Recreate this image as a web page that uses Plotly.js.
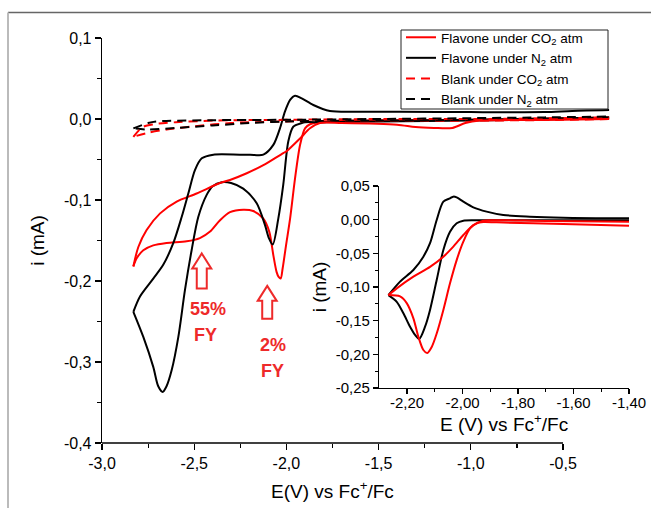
<!DOCTYPE html>
<html><head><meta charset="utf-8">
<script src="https://cdn.plot.ly/plotly-3.0.1.min.js"></script>
<style>html,body{margin:0;padding:0;background:#fff}#chart{width:651px;height:508px}</style>
</head><body><div id="chart"></div>
<script>
// ---------- Main plot data (E in V vs Fc+/Fc, i in mA); each CV loop split into cathodic (fwd) and anodic (rev) branch ----------
const flavoneCO2_fwd_E = [-0.25,-0.5,-1.0,-1.5,-1.8,-1.872,-1.899,-1.926,-1.953,-1.980,-2.002,-2.020,-2.031,-2.042,-2.053,-2.071,-2.093,-2.125,-2.180,-2.234,-2.306,-2.360,-2.414,-2.469,-2.541,-2.650,-2.722,-2.776,-2.812,-2.830];
const flavoneCO2_fwd_i = [0.002,0.001,-0.001,-0.002,-0.003,-0.0065,-0.0115,-0.032,-0.073,-0.123,-0.156,-0.184,-0.197,-0.195,-0.189,-0.168,-0.139,-0.123,-0.1136,-0.112,-0.115,-0.125,-0.139,-0.147,-0.151,-0.153,-0.156,-0.162,-0.172,-0.182];
const flavoneCO2_rev_E = [-2.830,-2.803,-2.758,-2.685,-2.595,-2.487,-2.360,-2.306,-2.215,-2.125,-2.017,-2.0,-1.926,-1.872,-1.818,-1.70,-1.40,-1.30,-1.20,-1.10,-1.03,-0.95,-0.5,-0.25];
const flavoneCO2_rev_i = [-0.182,-0.158,-0.137,-0.1165,-0.102,-0.092,-0.079,-0.0753,-0.067,-0.057,-0.042,-0.040,-0.024,-0.0115,-0.005,-0.005,-0.007,-0.010,-0.011,-0.011,-0.005,-0.002,-0.001,0.0];

const flavoneN2_fwd_E = [-0.25,-0.5,-1.0,-1.5,-1.8,-1.9,-1.917,-1.963,-1.990,-2.017,-2.044,-2.074,-2.095,-2.116,-2.161,-2.234,-2.30,-2.35,-2.40,-2.433,-2.478,-2.514,-2.550,-2.586,-2.622,-2.650,-2.671,-2.695,-2.722,-2.776,-2.830];
const flavoneN2_fwd_i = [0.002,0.0,-0.002,-0.003,-0.004,-0.004,-0.005,-0.0095,-0.028,-0.081,-0.123,-0.155,-0.147,-0.131,-0.104,-0.086,-0.079,-0.078,-0.083,-0.094,-0.121,-0.162,-0.211,-0.269,-0.310,-0.330,-0.337,-0.330,-0.306,-0.269,-0.238];
const flavoneN2_rev_E = [-2.830,-2.794,-2.722,-2.668,-2.613,-2.568,-2.532,-2.496,-2.459,-2.396,-2.252,-2.197,-2.125,-2.071,-2.035,-2.008,-1.980,-1.953,-1.917,-1.854,-1.764,-1.60,-1.384,-1.0,-0.6,-0.45,-0.25];
const flavoneN2_rev_i = [-0.238,-0.219,-0.197,-0.180,-0.153,-0.121,-0.092,-0.063,-0.0485,-0.044,-0.044,-0.044,-0.044,-0.032,-0.0115,0.009,0.0235,0.0288,0.0255,0.0173,0.0099,0.009,0.009,0.0085,0.0086,0.010,0.011];

const blankCO2_fwd_E = [-0.25,-0.5,-1.0,-1.5,-2.0,-2.3,-2.5,-2.65,-2.75,-2.83];
const blankCO2_fwd_i = [0.0,-0.001,-0.002,-0.002,-0.003,-0.005,-0.009,-0.013,-0.017,-0.022];
const blankCO2_rev_E = [-2.83,-2.78,-2.72,-2.6,-2.4,-2.0,-1.5,-1.0,-0.5,-0.25];
const blankCO2_rev_i = [-0.022,-0.010,-0.0065,-0.004,-0.002,-0.001,0.0,0.0,0.001,0.002];

const blankN2_fwd_E = [-0.25,-0.5,-1.0,-1.5,-2.0,-2.2,-2.4,-2.6,-2.75,-2.83];
const blankN2_fwd_i = [0.002,0.001,-0.001,-0.002,-0.003,-0.005,-0.008,-0.011,-0.013,-0.0115];
const blankN2_rev_E = [-2.83,-2.75,-2.7,-2.4,-2.0,-1.5,-1.0,-0.6,-0.25];
const blankN2_rev_i = [-0.0115,-0.005,-0.003,-0.0015,-0.001,0.0,0.001,0.002,0.003];

// ---------- Inset data ----------
const insetN2_fwd_E = [-1.40,-1.757,-1.937,-1.997,-2.021,-2.045,-2.069,-2.093,-2.117,-2.135,-2.156,-2.171,-2.189,-2.213,-2.237,-2.267];
const insetN2_fwd_i = [-0.001,-0.001,-0.001,-0.0015,-0.0054,-0.018,-0.045,-0.0896,-0.134,-0.159,-0.177,-0.171,-0.159,-0.139,-0.122,-0.112];
const insetN2_rev_E = [-2.267,-2.225,-2.177,-2.141,-2.117,-2.093,-2.069,-2.045,-2.033,-2.021,-1.997,-1.961,-1.913,-1.853,-1.757,-1.637,-1.40];
const insetN2_rev_i = [-0.112,-0.092,-0.0748,-0.055,-0.035,-0.0005,0.0267,0.0317,0.0342,0.033,0.0267,0.0183,0.0119,0.0069,0.0045,0.003,0.002];

const insetCO2_fwd_E = [-1.40,-1.637,-1.877,-1.925,-1.949,-1.973,-1.997,-2.021,-2.045,-2.069,-2.093,-2.111,-2.127,-2.141,-2.159,-2.177,-2.201,-2.225,-2.267];
const insetCO2_fwd_i = [-0.009,-0.0065,-0.004,-0.0035,-0.0054,-0.013,-0.0327,-0.060,-0.0945,-0.134,-0.169,-0.189,-0.198,-0.1936,-0.174,-0.1465,-0.124,-0.114,-0.112];
const insetCO2_rev_E = [-2.267,-2.237,-2.177,-2.117,-2.069,-2.033,-1.997,-1.961,-1.925,-1.877,-1.70,-1.40];
const insetCO2_rev_i = [-0.112,-0.102,-0.0847,-0.070,-0.055,-0.040,-0.0228,-0.008,-0.0015,-0.0008,-0.002,-0.003];

// ---------- Tick labels ----------
const mainXTicks = [-3,-2.5,-2,-1.5,-1,-0.5];
const mainXLabels = ['-3,0','-2,5','-2,0','-1,5','-1,0','-0,5'];
const mainXMinor = [-2.75,-2.25,-1.75,-1.25,-0.75];
const mainYTicks = [0.1,0,-0.1,-0.2,-0.3,-0.4];
const mainYLabels = ['0,1','0,0','-0,1','-0,2','-0,3','-0,4'];
const mainYMinor = [0.05,-0.05,-0.15,-0.25,-0.35];
const insetXTicks = [-2.2,-2.0,-1.8,-1.6,-1.4];
const insetXLabels = ['-2,20','-2,00','-1,80','-1,60','-1,40'];
const insetXMinor = [-2.1,-1.9,-1.7,-1.5];
const insetYTicks = [0.05,0,-0.05,-0.1,-0.15,-0.2,-0.25];
const insetYLabels = ['0,05','0,00','-0,05','-0,10','-0,15','-0,20','-0,25'];
const insetYMinor = [0.025,-0.025,-0.075,-0.125,-0.175,-0.225];

// ---------- Layout geometry ----------
const W = 651, H = 508;
const M = {l:102, r:20, t:38, b:65};
const PW = W - M.l - M.r, PH = H - M.t - M.b;
const xRange = [-3, -3 + PW / 184.4];
const yRange = [-0.4, 0.1];
const px = p => (p - M.l) / PW;          // pixel -> paper x
const py = p => (H - M.b - p) / PH;      // pixel -> paper y
const RED = '#ff0000', BLACK = '#000000', TXTRED = '#ee2a2a';
const FONT = 'Arial, "Liberation Sans", sans-serif';
const DASH = '9px,6px';

function branch(x, y, color, name, opts) {
  return Object.assign({x, y, mode:'lines', name, legendgroup:name,
    line:{color, width:2, shape:'spline', smoothing:0.8, dash:(opts && opts.dash) || 'solid'}}, opts && opts.extra);
}

const traces = [
  branch(flavoneCO2_fwd_E, flavoneCO2_fwd_i, RED, 'Flavone under CO<sub>2</sub> atm'),
  branch(flavoneN2_fwd_E, flavoneN2_fwd_i, BLACK, 'Flavone under N<sub>2</sub> atm'),
  branch(blankCO2_fwd_E, blankCO2_fwd_i, RED, 'Blank under CO<sub>2</sub> atm', {dash:DASH}),
  branch(blankN2_fwd_E, blankN2_fwd_i, BLACK, 'Blank under N<sub>2</sub> atm', {dash:DASH}),
  branch(flavoneCO2_rev_E, flavoneCO2_rev_i, RED, 'Flavone under CO<sub>2</sub> atm', {extra:{showlegend:false}}),
  branch(flavoneN2_rev_E, flavoneN2_rev_i, BLACK, 'Flavone under N<sub>2</sub> atm', {extra:{showlegend:false}}),
  branch(blankCO2_rev_E, blankCO2_rev_i, RED, 'Blank under CO<sub>2</sub> atm', {dash:DASH, extra:{showlegend:false}}),
  branch(blankN2_rev_E, blankN2_rev_i, BLACK, 'Blank under N<sub>2</sub> atm', {dash:DASH, extra:{showlegend:false}}),
  branch(insetN2_fwd_E, insetN2_fwd_i, BLACK, 'inset N2', {extra:{xaxis:'x2', yaxis:'y2', showlegend:false}}),
  branch(insetN2_rev_E, insetN2_rev_i, BLACK, 'inset N2', {extra:{xaxis:'x2', yaxis:'y2', showlegend:false}}),
  branch(insetCO2_fwd_E, insetCO2_fwd_i, RED, 'inset CO2', {extra:{xaxis:'x2', yaxis:'y2', showlegend:false}}),
  branch(insetCO2_rev_E, insetCO2_rev_i, RED, 'inset CO2', {extra:{xaxis:'x2', yaxis:'y2', showlegend:false}})
];

const axCommon = {showgrid:false, zeroline:false, ticks:'outside', tickcolor:BLACK, tickwidth:1.2, automargin:false, tickmode:'array'};
const xFrac = v => (v - xRange[0]) / (xRange[1] - xRange[0]);

const arrowPath = len => `M0,0 L9.5,-15 L5,-15 L5,-${len} L-5,-${len} L-5,-15 L-9.5,-15 Z`;

const layout = {
  width: W, height: H, margin: M,
  paper_bgcolor:'#fff', plot_bgcolor:'rgba(0,0,0,0)',
  font:{family:FONT, color:BLACK},
  showlegend:true,
  legend:{x:px(401), y:py(22), xanchor:'left', yanchor:'top', bgcolor:'rgba(0,0,0,0)', borderwidth:0,
          font:{size:13.5, family:FONT}, tracegroupgap:0, traceorder:'normal'},
  xaxis: Object.assign({}, axCommon, {range:xRange, domain:[0,1], showline:false, tickvals:mainXTicks, ticktext:mainXLabels,
          ticklen:6, tickfont:{size:16}, minor:{tickmode:'array', tickvals:mainXMinor, ticks:'outside', ticklen:3.5, tickcolor:BLACK, tickwidth:1.2}}),
  yaxis: Object.assign({}, axCommon, {range:yRange, domain:[0,1], showline:true, linecolor:BLACK, linewidth:1.3, tickvals:mainYTicks, ticktext:mainYLabels,
          ticklen:6, tickfont:{size:16}, minor:{tickmode:'array', tickvals:mainYMinor, ticks:'outside', ticklen:3.5, tickcolor:BLACK, tickwidth:1.2},
          title:{text:'i (mA)', font:{size:19}, standoff:14}}),
  xaxis2: Object.assign({}, axCommon, {anchor:'y2', range:[-2.3,-1.4], domain:[px(379.25), px(629)], showline:true, linecolor:BLACK, linewidth:1.3,
          tickvals:insetXTicks, ticktext:insetXLabels, ticklen:5, tickfont:{size:15}, ticklabelstandoff:-4,
          minor:{tickmode:'array', tickvals:insetXMinor, ticks:'outside', ticklen:3, tickcolor:BLACK, tickwidth:1.2},
          title:{text:'E (V) vs Fc<sup>+</sup>/Fc', font:{size:19}, standoff:4}}),
  yaxis2: Object.assign({}, axCommon, {anchor:'x2', range:[-0.25,0.05], domain:[py(388), py(186)], showline:true, linecolor:BLACK, linewidth:1.3,
          tickvals:insetYTicks, ticktext:insetYLabels, ticklen:5, tickfont:{size:15},
          minor:{tickmode:'array', tickvals:insetYMinor, ticks:'outside', ticklen:3, tickcolor:BLACK, tickwidth:1.2},
          title:{text:'i (mA)', font:{size:19}, standoff:4}}),
  shapes: [
    // main x axis line from -3.0 to -0.5
    {type:'line', xref:'paper', yref:'paper', x0:xFrac(-3), x1:xFrac(-0.5), y0:0, y1:0, line:{color:BLACK, width:1.3}},
    // legend frame
    {type:'rect', xref:'paper', yref:'paper', x0:px(401), x1:px(608), y0:py(109), y1:py(30), line:{color:'#222', width:1}, fillcolor:'#fff', layer:'above'},
    // picture frame
    {type:'line', xref:'paper', yref:'paper', x0:px(8), x1:px(651), y0:py(12.5), y1:py(12.5), line:{color:'#666', width:1.5}},
    {type:'line', xref:'paper', yref:'paper', x0:px(8), x1:px(8), y0:py(12.5), y1:py(510), line:{color:'#bbb', width:2}},
    // hollow arrows
    {type:'path', xref:'x', yref:'y', xsizemode:'pixel', ysizemode:'pixel', xanchor:-2.459, yanchor:-0.166,
     path:arrowPath(35), line:{color:TXTRED, width:2}, fillcolor:'rgba(0,0,0,0)'},
    {type:'path', xref:'x', yref:'y', xsizemode:'pixel', ysizemode:'pixel', xanchor:-2.104, yanchor:-0.206,
     path:arrowPath(33), line:{color:TXTRED, width:2}, fillcolor:'rgba(0,0,0,0)'}
  ],
  annotations: [
    {text:'E(V) vs Fc<sup>+</sup>/Fc', xref:'x', yref:'paper', x:-1.75, y:py(490), showarrow:false, font:{size:19}, xanchor:'center', yanchor:'middle'},
    {text:'<b>55%</b>', xref:'x', yref:'y', x:-2.425, y:-0.234, showarrow:false, font:{size:18, color:TXTRED}},
    {text:'<b>FY</b>', xref:'x', yref:'y', x:-2.441, y:-0.2667, showarrow:false, font:{size:18, color:TXTRED}},
    {text:'<b>2%</b>', xref:'x', yref:'y', x:-2.0754, y:-0.279, showarrow:false, font:{size:18, color:TXTRED}},
    {text:'<b>FY</b>', xref:'x', yref:'y', x:-2.0727, y:-0.3105, showarrow:false, font:{size:18, color:TXTRED}}
  ]
};

Plotly.newPlot('chart', traces, layout, {displayModeBar:false, staticPlot:true});
</script></body></html>
